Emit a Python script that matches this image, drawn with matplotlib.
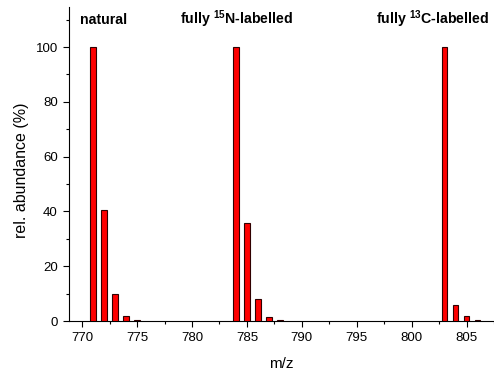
import matplotlib
matplotlib.use("Agg")
import matplotlib.pyplot as plt
from matplotlib.ticker import MultipleLocator

plt.rcParams['font.family'] = ['Liberation Sans', 'DejaVu Sans']
plt.rcParams['mathtext.fontset'] = 'custom'
plt.rcParams['mathtext.rm'] = 'Liberation Sans'
plt.rcParams['mathtext.bf'] = 'Liberation Sans:bold'

# isotope patterns (m/z, relative abundance %)
mz_natural = [771, 772, 773, 774, 775]
ab_natural = [100, 40.5, 9.8, 1.8, 0.3]
mz_n15 = [784, 785, 786, 787, 788]
ab_n15 = [100, 35.8, 8.2, 1.4, 0.3]
mz_c13 = [803, 804, 805, 806]
ab_c13 = [100, 5.8, 1.8, 0.4]

labels = ["natural", r"fully $\mathbf{^{15}}$N-labelled", r"fully $\mathbf{^{13}}$C-labelled"]
label_x = [769.8, 778.9, 796.8]

fig = plt.figure(figsize=(4.94, 3.72), dpi=100)
ax = fig.add_axes([69 / 494, 51 / 372, 425 / 494, 314 / 372])

for mz, ab in [(mz_natural, ab_natural), (mz_n15, ab_n15), (mz_c13, ab_c13)]:
    ax.bar(mz, ab, width=0.5, color='#ff0000', edgecolor='#300000', linewidth=0.8, zorder=3)

for x, t in zip(label_x, labels):
    ax.text(x, 110, t, fontsize=10.2, fontweight='bold', va='center', ha='left')

ax.set_xlim(768.8, 807.5)
ax.set_ylim(0, 114.6)
ax.xaxis.set_major_locator(MultipleLocator(5))
ax.xaxis.set_minor_locator(MultipleLocator(2.5))
ax.yaxis.set_major_locator(MultipleLocator(20))
ax.yaxis.set_minor_locator(MultipleLocator(10))
ax.tick_params(which='both', direction='out', labelsize=9.5, width=0.8)
ax.tick_params(which='major', length=4.5)
ax.tick_params(which='minor', length=2.5)
ax.spines['top'].set_visible(False)
ax.spines['right'].set_visible(False)

ax.set_xlabel('m/z', fontsize=11, labelpad=9)
ax.set_ylabel('rel. abundance (%)', fontsize=11.5)
ax.yaxis.set_label_coords(-0.094, 0.48)

fig.savefig('out.png', dpi=100)
